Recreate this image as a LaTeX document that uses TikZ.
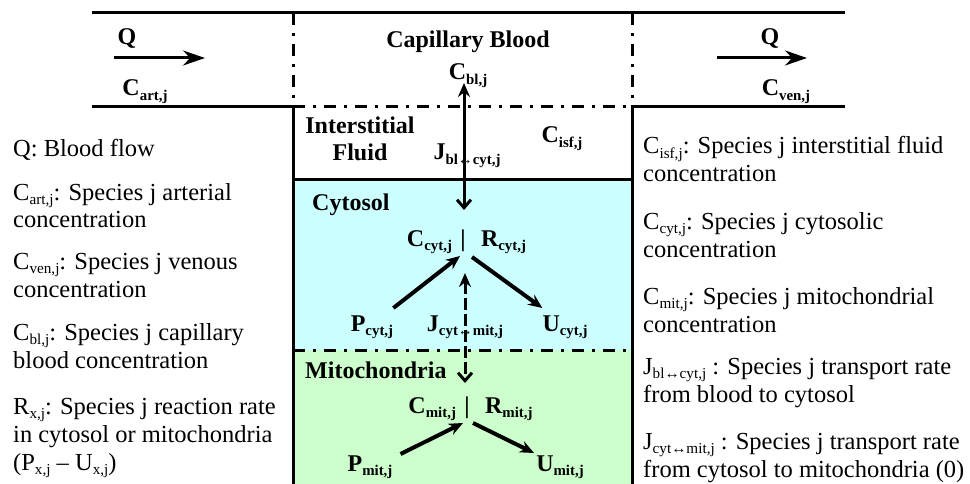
\documentclass[tikz,border=0pt]{standalone}
\usepackage{fontspec}
\setmainfont{Liberation Serif}
\usepackage{graphicx}
\usepackage{xcolor}
\usepackage{tikz}
\usetikzlibrary{arrows.meta, positioning}
\definecolor{cytfill}{RGB}{204,255,255}
\definecolor{mitfill}{RGB}{204,255,204}
\newcommand{\lowidx}[1]{\raisebox{-0.18em}{\scalebox{0.62}{#1}}}

\begin{document}
\begin{tikzpicture}[x=1pt, y=-1pt, >={Stealth[length=14pt, width=12pt]},
  lbl/.style={font=\fontsize{24}{28}\selectfont\bfseries, inner sep=0pt, anchor=base},
  note/.style={font=\fontsize{24.5}{28}\selectfont, align=left, anchor=base west, inner sep=0pt},
  wall/.style={line width=3pt},
  dashdot/.style={line width=3pt, dash pattern=on 12pt off 8pt on 3pt off 8pt},
  flow/.style={line width=3pt, -{Stealth[length=22pt, width=15pt]}},
  react/.style={line width=4pt, ->},
  carrier/.style={line width=3pt, {Stealth[length=14pt, width=12pt]}-{Straight Barb[length=8pt, width=14pt]}}]
      \useasboundingbox (0,0) rectangle (970,484);
      \fill[cytfill] (293,180) rectangle (632,350);
      \fill[mitfill] (293,350) rectangle (632,484);
      \draw[wall] (92,13) -- (845,13);
      \draw[wall] (92,107) -- (293,107) -- (293,484);
      \draw[wall] (845,107) -- (632,107) -- (632,484);
      \draw[wall] (293,180) -- (632,180);
      \draw[dashdot] (293,13) -- (293,107);
      \draw[dashdot] (632,13) -- (632,107);
      \draw[dashdot] (293,107) -- (632,107);
      \draw[dashdot] (293,350) -- (632,350);

      \node[lbl] (q_in) at (127,45) {Q};
      \coordinate (in_tail) at (114,58);
      \coordinate (in_head) at (205,58);
      \draw[flow] (in_tail) -- (in_head);
      \node[lbl] (c_art) at (145,96) {C\lowidx{art,j}};
      \node[lbl] (q_out) at (770,45) {Q};
      \coordinate (out_tail) at (717,58);
      \coordinate (out_head) at (807,58);
      \draw[flow] (out_tail) -- (out_head);
      \node[lbl] (c_ven) at (786,96) {C\lowidx{ven,j}};

      \node[lbl] (blood) at (468,48) {Capillary Blood};
      \node[lbl] (c_bl) at (468,80) {C\lowidx{bl,j}};
      \node[lbl, align=center] (isf) at (360,161) {Interstitial\\Fluid};
      \node[lbl] (c_isf) at (562,143) {C\lowidx{isf,j}};
      \coordinate (bl_top) at (464,83);
      \coordinate (bl_bot) at (464,210);
      \draw[carrier] (bl_top) -- (bl_bot);
      \node[lbl] (j_bl) at (467,160) {J\lowidx{bl↔cyt,j}};

      \node[lbl, anchor=base west] (cytosol) at (312,211) {Cytosol};
      \node[lbl] (cyt_bar) at (463,246) {|};
      \node[lbl, base left=8pt of cyt_bar] (c_cyt) {C\lowidx{cyt,j}};
      \node[lbl, base right=15pt of cyt_bar] (r_cyt) {R\lowidx{cyt,j}};
      \node[lbl] (p_cyt) at (372,331) {P\lowidx{cyt,j}};
      \node[lbl] (u_cyt) at (565,331) {U\lowidx{cyt,j}};
      \draw[react] ([yshift=23pt]p_cyt.base east) -- ([xshift=-3pt, yshift=-10pt]cyt_bar.base);
      \draw[react] ([xshift=9pt, yshift=-11pt]cyt_bar.base) -- ([yshift=23pt]u_cyt.base west);
      \coordinate (cm_top) at (465,273);
      \coordinate (cm_bot) at (465,383);
      \draw[carrier, dash pattern=on 12pt off 4pt] (cm_top) -- (cm_bot);
      \node[lbl] (j_cyt) at (465,331) {J\lowidx{cyt↔mit,j}};

      \node[lbl, anchor=base west] (mito) at (305,378) {Mitochondria};
      \node[lbl] (mit_bar) at (467,413) {|};
      \node[lbl, base left=8pt of mit_bar] (c_mit) {C\lowidx{mit,j}};
      \node[lbl, base right=15pt of mit_bar] (r_mit) {R\lowidx{mit,j}};
      \node[lbl] (p_mit) at (370,471) {P\lowidx{mit,j}};
      \node[lbl] (u_mit) at (560,471) {U\lowidx{mit,j}};
      \draw[react] ([xshift=8pt, yshift=17pt]p_mit.base east) -- ([xshift=-4pt, yshift=-10pt]mit_bar.base);
      \draw[react] ([xshift=6pt, yshift=-10pt]mit_bar.base) -- ([xshift=-2pt, yshift=18pt]u_mit.base west);

      \node[note] (n_q) at (13,157) {Q: Blood flow};
      \node[note] (n_art) at (13,228) {C\lowidx{art,j}: Species j arterial\\concentration};
      \node[note] (n_ven) at (13,297) {C\lowidx{ven,j}: Species j venous\\concentration};
      \node[note] (n_bl) at (13,368) {C\lowidx{bl,j}: Species j capillary\\blood concentration};
      \node[note] (n_rx) at (13,470) {R\lowidx{x,j}: Species j reaction rate\\in cytosol or mitochondria\\(P\lowidx{x,j} – U\lowidx{x,j})};
      \node[note] (n_isf) at (643,182) {C\lowidx{isf,j}: Species j interstitial fluid\\concentration};
      \node[note] (n_cyt) at (643,257) {C\lowidx{cyt,j}: Species j cytosolic\\concentration};
      \node[note] (n_mit) at (643,332) {C\lowidx{mit,j}: Species j mitochondrial\\concentration};
      \node[note] (n_jbl) at (643,402) {J\lowidx{bl↔cyt,j} : Species j transport rate\\from blood to cytosol};
      \node[note] (n_jcyt) at (643,477) {J\lowidx{cyt↔mit,j} : Species j transport rate\\from cytosol to mitochondria (0)};
    \end{tikzpicture}
\end{document}
